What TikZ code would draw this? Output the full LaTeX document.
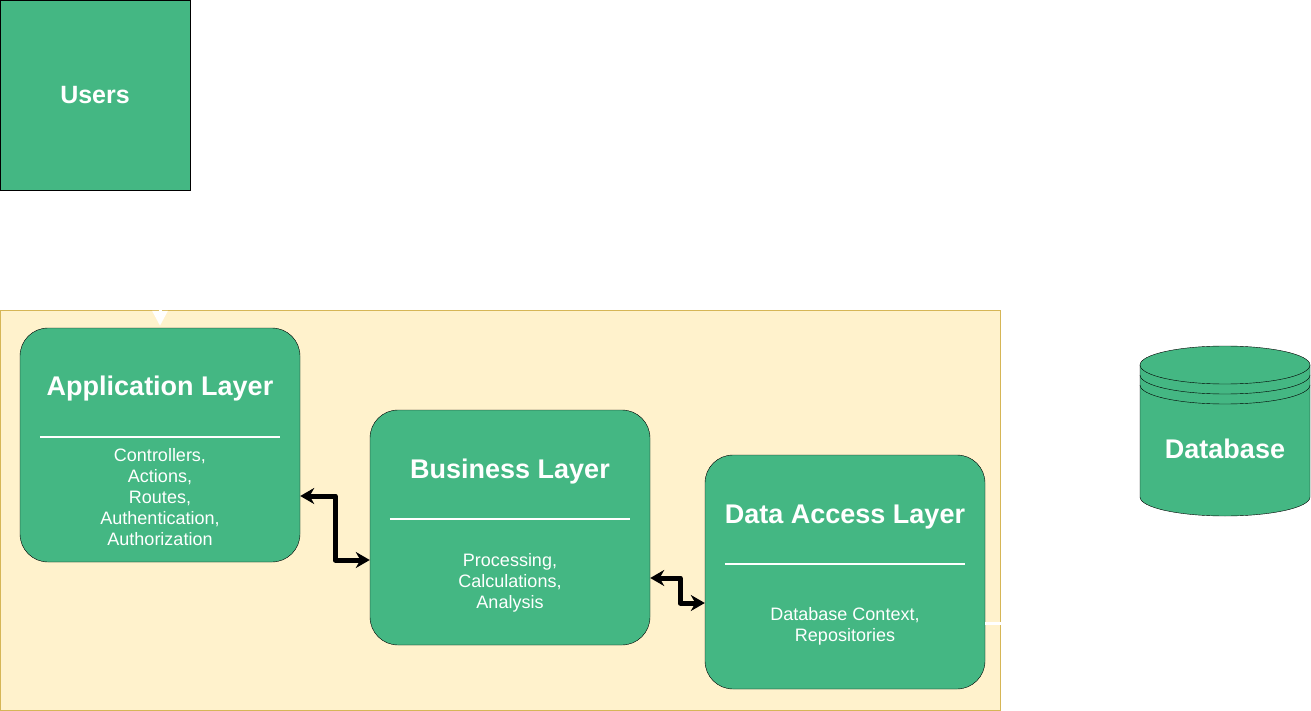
\documentclass[tikz,border=0pt]{standalone}
\usepackage{fontspec}
\setmainfont{Liberation Sans}
\usetikzlibrary{arrows.meta}
\definecolor{layergreen}{HTML}{44B783}
\definecolor{boxyellow}{HTML}{FFF2CC}
\definecolor{boxgold}{HTML}{D6B656}

\begin{document}
\begin{tikzpicture}[x=1pt,y=-1pt,
  layer/.style={draw=black, fill=layergreen, rounded corners=28pt, minimum width=280pt, minimum height=234pt},
  title/.style={text=white, font=\bfseries\fontsize{27}{30}\selectfont},
  body/.style={text=white, align=center, font=\fontsize{18}{21}\selectfont},
  divider/.style={white, line width=1.5pt},
  link/.style={line width=5pt, line join=round, {Stealth[length=14pt,width=16pt]}-{Stealth[length=14pt,width=16pt]}},
  ghost/.style={white, line width=3pt, -{Triangle[length=15pt,width=15pt]}}]
\useasboundingbox (0,0) rectangle (1311,711);

% users
\node[draw=black, fill=layergreen, minimum size=190pt, text=white, font=\bfseries\fontsize{25}{28}\selectfont] (users) at (95,95) {Users};

% container
\draw[fill=boxyellow, draw=boxgold] (0,310) rectangle (1000,710);

% database
\filldraw[fill=layergreen, draw=black] (1140,365) -- (1140,497) arc[start angle=180, end angle=360, x radius=85pt, y radius=19pt]
  -- (1310,365) arc[start angle=0, end angle=180, x radius=85pt, y radius=19pt] -- cycle;
\foreach \dy in {0,10,20}
  \draw (1140,365+\dy) arc[start angle=180, end angle=360, x radius=85pt, y radius=19pt];
\node[minimum width=170pt, minimum height=134pt, text=white, font=\bfseries\fontsize{27}{30}\selectfont] (db) at (1225,449) {Database};

% layers
\node[layer] (app) at (160,445) {};
\node[layer, minimum height=235pt] (biz) at (510,527.5) {};
\node[layer] (dal) at (845,572) {};

\node[title] (apptitle) at ([yshift=-61pt]app.north) {Application Layer};
\node[title] (biztitle) at ([yshift=-62pt]biz.north) {Business Layer};
\node[title] (daltitle) at ([yshift=-62pt]dal.north) {Data Access Layer};

\foreach \n in {app,biz,dal}
  \draw[divider] ([xshift=20pt,yshift=-109pt]\n.north west) -- ([xshift=-20pt,yshift=-109pt]\n.north east);

\node[body] (appbody) at ([yshift=-169pt]app.north) {Controllers,\\Actions,\\Routes,\\Authentication,\\Authorization};
\node[body] (bizbody) at ([yshift=-173pt]biz.north) {Processing,\\Calculations,\\Analysis};
\node[body] (dalbody) at ([yshift=-172pt]dal.north) {Database Context,\\Repositories};

% connectors
\draw[link] ([yshift=-51pt]app.east) -- ++(35,0) |- ([yshift=-32.5pt]biz.west);
\draw[link] ([yshift=-50.5pt]biz.east) -- ++(30,0) |- ([yshift=-31pt]dal.west);

\draw[ghost, shorten <=2pt, shorten >=2pt] (users.south) -- ++(0,69) -| (app.north);
\draw[ghost, shorten >=1.5pt] ([yshift=-51pt]dal.east) -- ++(77,0) |- (db.west);

\end{tikzpicture}
\end{document}
